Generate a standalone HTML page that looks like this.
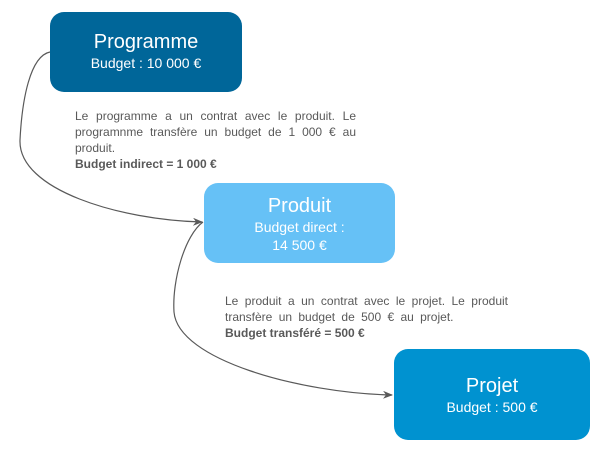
<!DOCTYPE html>
<html><head><meta charset="utf-8"><style>
body{margin:0;width:606px;height:454px;background:#fff;position:relative;overflow:hidden;font-family:"Liberation Sans",sans-serif}
.b{position:absolute;border-radius:14px;color:#fff;text-align:center;box-sizing:border-box}
.t{font-size:20px;line-height:24px}
.s{font-size:14px;line-height:18px}
.p{position:absolute;font-size:12px;line-height:16px;color:#595959;width:281px}
.j{text-align:justify;text-align-last:justify;white-space:nowrap}
.j{white-space:normal}
</style></head><body>
<svg width="606" height="454" style="position:absolute;left:0;top:0">
<defs><marker id="a" markerWidth="10" markerHeight="8" refX="9" refY="4" orient="auto" markerUnits="userSpaceOnUse"><path d="M0,0 L10,4 L0,8 L3,4 Z" fill="#595959"/></marker></defs>
<path d="M50,52 C30,56 22,100 20,140 C18,190 120,220 202,222" fill="none" stroke="#595959" stroke-width="1.2" marker-end="url(#a)"/>
<path d="M203,222 C185,235 172,280 174,312 C178,360 300,393 392,395" fill="none" stroke="#595959" stroke-width="1.2" marker-end="url(#a)"/>
</svg>
<div class="b" style="left:50px;top:12px;width:192px;height:80px;background:#006699;padding-top:18px"><div class="t">Programme</div><div class="s">Budget : 10 000 €</div></div>
<div class="b" style="left:204px;top:183px;width:191px;height:80px;background:#66c1f6;padding-top:11px"><div class="t">Produit</div><div class="s">Budget direct :<br>14 500 €</div></div>
<div class="b" style="left:394px;top:349px;width:196px;height:91px;background:#0092d0;padding-top:25px"><div class="t">Projet</div><div class="s">Budget : 500 €</div></div>
<div class="p" style="left:75px;top:108px"><div class="j">Le programme a un contrat avec le produit. Le</div><div class="j">programnme transfère un budget de 1 000 € au</div><div>produit.</div><div><b>Budget indirect = 1 000 €</b></div></div>
<div class="p" style="left:225px;top:293px;width:283px"><div class="j">Le produit a un contrat avec le projet. Le produit</div><div style="word-spacing:3px">transfère un budget de 500 € au projet.</div><div><b>Budget transféré = 500 €</b></div></div>
</body></html>
